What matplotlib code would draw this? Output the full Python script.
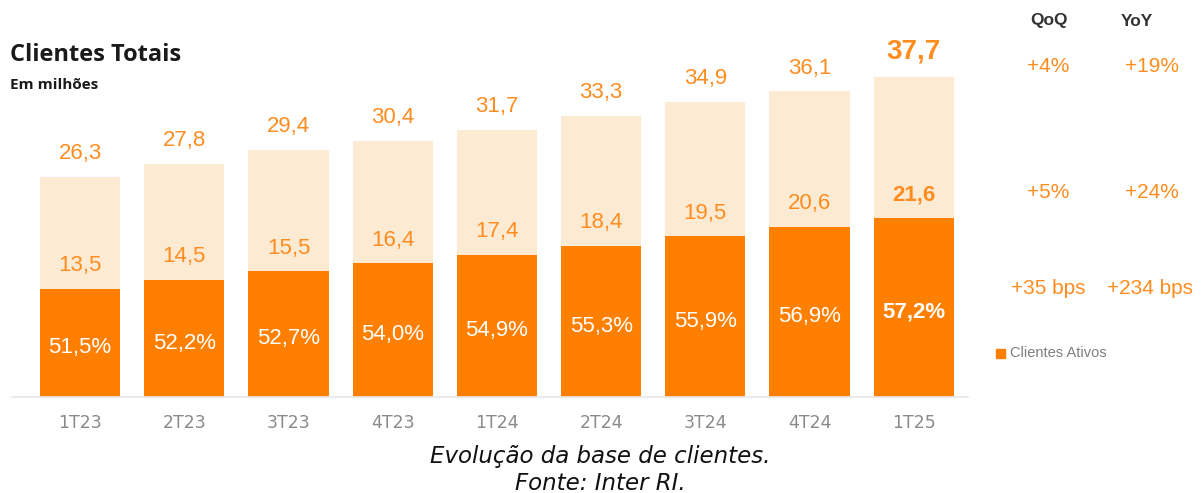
import matplotlib
matplotlib.use("Agg")
import matplotlib.pyplot as plt
import numpy as np

# dados (milhões de clientes)
trimestres = ["1T23", "2T23", "3T23", "4T23", "1T24", "2T24", "3T24", "4T24", "1T25"]
totais = [26.3, 27.8, 29.4, 30.4, 31.7, 33.3, 34.9, 36.1, 37.7]
ativos = [13.5, 14.5, 15.5, 16.4, 17.4, 18.4, 19.5, 20.6, 21.6]
taxa_ativacao = [51.5, 52.2, 52.7, 54.0, 54.9, 55.3, 55.9, 56.9, 57.2]
qoq = ["+4%", "+5%", "+35 bps"]
yoy = ["+19%", "+24%", "+234 bps"]

ESCURO = "#FF7F00"
CLARO = "#FDEAD2"
TEXTO_LARANJA = "#FF8C1F"


def br(v, fmt="{:.1f}"):
    return fmt.format(v).replace(".", ",")


W, H = 1201, 493
fig = plt.figure(figsize=(W / 100, H / 100), dpi=100)

# eixo principal posicionado em pixels
left_px, right_px, base_px, top_px = 12, 968, 397, 20
ax = fig.add_axes([left_px / W, (H - base_px) / H,
                   (right_px - left_px) / W, (base_px - top_px) / H])

x = np.arange(len(trimestres))
largura = 0.77
ax.bar(x, totais, width=largura, color=CLARO, zorder=1)
ax.bar(x, ativos, width=largura, color=ESCURO, zorder=2)

# a escala original não começa exatamente em zero
px_unit = 8.74
y0 = 1.1
ax.set_xlim(-0.653, 8.52)
ax.set_ylim(y0, y0 + (base_px - top_px) / px_unit)

ultimo = len(trimestres) - 1
for i in x:
    peso = "bold" if i == ultimo else "normal"
    tam_tot = 20 if i == ultimo else 16
    ax.annotate(br(totais[i]), (i, totais[i]), xytext=(0, 9), textcoords="offset points",
                ha="center", va="bottom", fontsize=tam_tot, color=TEXTO_LARANJA,
                fontweight=peso, family="Liberation Sans")
    ax.annotate(br(ativos[i]), (i, ativos[i]), xytext=(0, 9), textcoords="offset points",
                ha="center", va="bottom", fontsize=16, color=TEXTO_LARANJA,
                fontweight=peso, family="Liberation Sans")
    ax.text(i, ativos[i] / 2, br(taxa_ativacao[i]) + "%", ha="center", va="center",
            fontsize=16, color="white", fontweight=peso, family="Liberation Sans", zorder=3)

ax.set_xticks(x)
ax.set_xticklabels(trimestres, color="#8A8A8A", fontsize=12.5, family="Liberation Sans Narrow")
ax.tick_params(axis="x", length=0, pad=12)
ax.set_yticks([])
for lado in ["top", "left", "right"]:
    ax.spines[lado].set_visible(False)
ax.spines["bottom"].set_color("#E6E6E6")
ax.spines["bottom"].set_linewidth(1.2)
ax.spines["bottom"].set_zorder(4)

# títulos
fig.text(10 / W, 1 - 55 / H, "Clientes Totais", fontsize=17, fontweight="bold",
         family="Open Sans", color="#1A1A1A", va="center", ha="left")
fig.text(10 / W, 1 - 85 / H, "Em milhões", fontsize=11, fontweight="bold",
         family="Open Sans", color="#1A1A1A", va="center", ha="left")

# colunas QoQ / YoY
fig.text(1049 / W, 1 - 21 / H, "QoQ", fontsize=12.5, fontweight="bold", color="#333333",
         ha="center", va="center", family="Liberation Sans")
fig.text(1137 / W, 1 - 21 / H, "YoY", fontsize=12.5, fontweight="bold", color="#333333",
         ha="center", va="center", family="Liberation Sans")
linhas_y = [66, 192, 288]
x_qoq = [1048, 1048, 1048]
x_yoy = [1152, 1152, 1150]
for k in range(3):
    fig.text(x_qoq[k] / W, 1 - linhas_y[k] / H, qoq[k], fontsize=15, color=TEXTO_LARANJA,
             ha="center", va="center", family="Liberation Sans")
    fig.text(x_yoy[k] / W, 1 - linhas_y[k] / H, yoy[k], fontsize=15, color=TEXTO_LARANJA,
             ha="center", va="center", family="Liberation Sans")

# legenda
fig.patches.append(plt.Rectangle((996 / W, 1 - 358 / H), 9 / W, 9 / H, color=ESCURO,
                                 transform=fig.transFigure, figure=fig))
fig.text(1010 / W, 1 - 353 / H, "Clientes Ativos", fontsize=10.5, color="#7F7F7F",
         ha="left", va="center", family="Liberation Sans")

# legenda da figura
fig.text(600 / W, 1 - 457 / H, "Evolução da base de clientes.", fontsize=16.5, style="italic",
         fontweight="light", ha="center", va="center", family="DejaVu Sans", color="#111111")
fig.text(600 / W, 1 - 483 / H, "Fonte: Inter RI.", fontsize=16.5, style="italic",
         fontweight="light", ha="center", va="center", family="DejaVu Sans", color="#111111")

fig.savefig("out.png", dpi=100)
